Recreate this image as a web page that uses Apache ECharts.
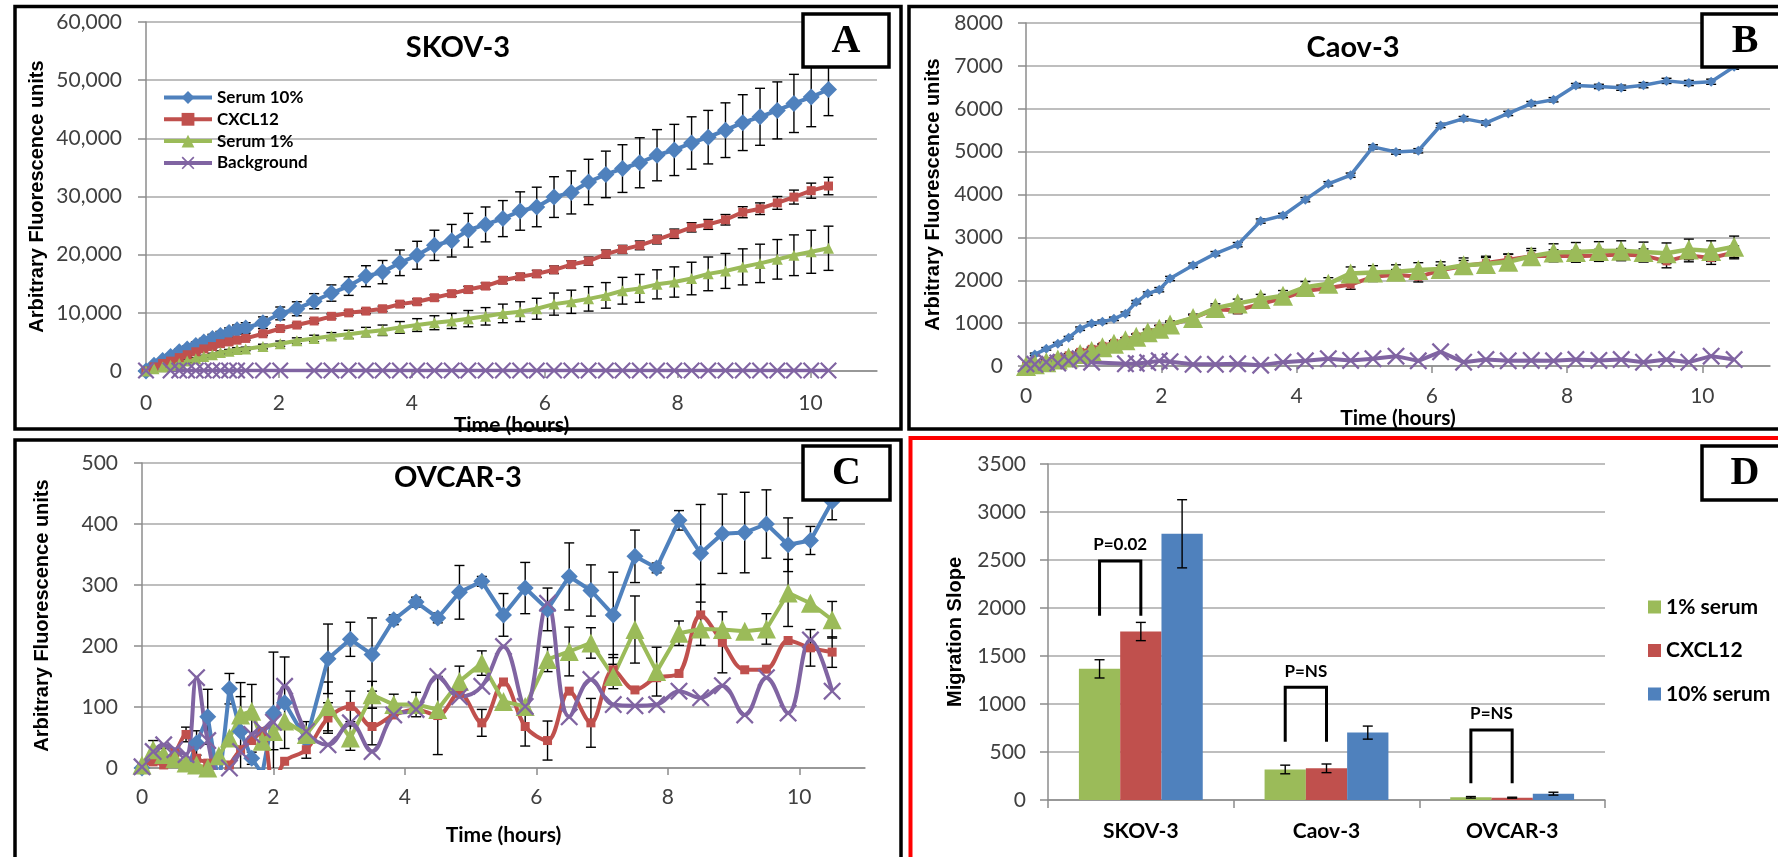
<!DOCTYPE html>
<html><head><meta charset="utf-8">
<script src="https://cdn.jsdelivr.net/npm/echarts@6/dist/echarts.min.js"></script>
<style>html,body{margin:0;padding:0;background:#fff}#c{width:1778px;height:857px}</style>
</head><body><div id="c"></div>
<script>
// ================= DATA =================
// Panel A : SKOV-3
var timesA = [0, 0.12, 0.25, 0.37, 0.5, 0.62, 0.75, 0.87, 1.0, 1.12, 1.25, 1.37, 1.5,
  1.76, 2.02, 2.27, 2.53, 2.79, 3.05, 3.31, 3.56, 3.82, 4.08, 4.34, 4.6,
  4.85, 5.11, 5.37, 5.63, 5.88, 6.14, 6.4, 6.66, 6.92, 7.17, 7.43, 7.69, 7.95, 8.21, 8.46, 8.72, 8.98, 9.24, 9.5, 9.75, 10.01, 10.27];
var aSerum10 = [0, 1000, 1800, 2500, 3300, 3800, 4400, 5000, 5600, 6100, 6600, 7100, 7400,
  8300, 9900, 10700, 12000, 13400, 14600, 16300, 17000, 18600, 19900, 21600, 22400,
  24200, 25200, 26200, 27500, 28200, 29900, 30700, 32500, 33800, 34800, 35800, 37100, 38000, 39200, 40200, 41400, 42700, 43700, 44800, 46000, 47100, 48400];
var aSerum10Err = [0, 200, 300, 400, 500, 500, 600, 600, 700, 700, 800, 800, 900,
  1000, 1100, 1200, 1300, 1400, 1600, 1800, 2000, 2200, 2400, 2600, 2800,
  2900, 3000, 3100, 3300, 3400, 3500, 3700, 3900, 4000, 4100, 4300, 4400, 4400, 4500, 4600, 4700, 4800, 4900, 4900, 5000, 5100, 4500];
var aCxcl12 = [0, 700, 1300, 1700, 2300, 2800, 3300, 3800, 4200, 4700, 5000, 5300, 5600,
  6400, 7300, 7900, 8600, 9400, 10000, 10300, 10700, 11500, 11900, 12600, 13300,
  14000, 14600, 15600, 16200, 16700, 17400, 18300, 18900, 20100, 20900, 21600, 22600, 23600, 24700, 25200, 26000, 27300, 27900, 28900, 29900, 31000, 31800];
var aCxcl12Err = [0, 100, 100, 150, 150, 200, 200, 200, 250, 250, 250, 300, 300,
  300, 350, 350, 400, 400, 400, 450, 450, 450, 500, 500, 500,
  550, 550, 600, 600, 600, 650, 650, 700, 700, 700, 750, 750, 800, 800, 850, 900, 950, 1000, 1100, 1200, 1300, 1500];
var aSerum1 = [0, 400, 700, 1000, 1300, 1700, 2100, 2500, 2800, 3200, 3400, 3700, 3800,
  4200, 4700, 5200, 5600, 6000, 6300, 6700, 7000, 7500, 7900, 8300, 8600,
  9000, 9400, 9900, 10200, 10700, 11500, 11900, 12400, 13000, 13800, 14200, 14900, 15300, 15900, 16700, 17200, 17900, 18500, 19200, 19900, 20500, 21100];
var aSerum1Err = [0, 100, 100, 150, 150, 200, 200, 200, 250, 250, 300, 300, 300,
  400, 450, 500, 550, 600, 700, 800, 900, 1000, 1100, 1200, 1300,
  1400, 1500, 1600, 1700, 1800, 1900, 2000, 2100, 2200, 2300, 2400, 2500, 2600, 2800, 2900, 3000, 3100, 3300, 3400, 3500, 3700, 3800];
var aBackground = [100, null, null, 100, 100, 100, 100, 100, 100, 100, 100, 100, 100,
  100, 100, null, 100, 100, 100, 100, 100, 100, 100, 100, 100,
  100, 100, 100, 100, 100, 100, 100, 100, 100, 100, 100, 100, 100, 100, 100, 100, 100, 100, 100, 100, 100, 100];

// Panel B : Caov-3
var timesB = [0, 0.13, 0.3, 0.47, 0.63, 0.8, 0.97, 1.13, 1.3, 1.47, 1.63, 1.8, 1.97, 2.13,
  2.47, 2.8, 3.13, 3.47, 3.8, 4.13, 4.47, 4.8, 5.13, 5.47, 5.8, 6.13, 6.47, 6.8, 7.13, 7.47, 7.8, 8.13, 8.47, 8.8, 9.13, 9.47, 9.8, 10.13, 10.47];
var bSerum10 = [0, 270, 400, 520, 660, 870, 990, 1030, 1100, 1220, 1490, 1690, 1780, 2040,
  2350, 2620, 2830, 3380, 3510, 3880, 4250, 4450, 5110, 4990, 5020, 5610, 5770, 5670, 5890, 6120, 6210, 6540, 6520, 6490, 6550, 6650, 6600, 6630, 6980];
var bSerum10Err = [0, 30, 30, 30, 30, 40, 40, 40, 40, 40, 40, 40, 50, 50,
  50, 50, 50, 50, 50, 50, 50, 50, 50, 50, 50, 50, 50, 50, 50, 50, 50, 50, 50, 60, 60, 60, 60, 60, 60];
var bCxcl12 = [0, 50, 120, 180, 250, 330, 400, 470, 540, 610, 690, 780, 880, 960,
  1120, 1320, 1300, 1450, 1580, 1750, 1820, 1900, 2080, 2130, 2080, 2230, 2330, 2400, 2480, 2560, 2570, 2560, 2580, 2600, 2580, 2440, 2580, 2520, 2650];
var bCxcl12Err = [0, 30, 30, 30, 40, 40, 40, 50, 50, 50, 50, 60, 60, 60,
  70, 80, 80, 80, 90, 100, 100, 110, 110, 120, 120, 120, 130, 130, 130, 130, 140, 140, 140, 140, 150, 150, 150, 150, 150];
var bSerum1 = [0, 40, 90, 150, 200, 280, 350, 440, 520, 600, 680, 790, 870, 970,
  1120, 1350, 1460, 1560, 1640, 1840, 1920, 2160, 2180, 2200, 2240, 2260, 2350, 2380, 2430, 2560, 2650, 2660, 2680, 2690, 2660, 2630, 2720, 2680, 2780];
var bSerum1Err = [0, 30, 30, 40, 40, 50, 50, 60, 60, 60, 70, 70, 80, 80,
  90, 100, 100, 110, 120, 130, 140, 150, 160, 160, 170, 170, 170, 180, 180, 180, 200, 220, 220, 230, 230, 240, 240, 240, 250];
var bBackground = [50, 40, 90, 70, 120, 170, 90, null, null, 50, 60, 80, 120, 100,
  40, 40, 50, 20, 90, 120, 170, 130, 170, 230, 120, 330, 90, 150, 120, 130, 120, 150, 130, 150, 90, 150, 90, 230, 150];

// Panel C : OVCAR-3
var timesC = [0, 0.17, 0.33, 0.5, 0.67, 0.83, 1.0, 1.17, 1.33, 1.5, 1.67, 1.83, 2.0, 2.17,
  2.5, 2.83, 3.17, 3.5, 3.83, 4.17, 4.5, 4.83, 5.17, 5.5, 5.83, 6.17, 6.5, 6.83, 7.17, 7.5, 7.83, 8.17, 8.5, 8.83, 9.17, 9.5, 9.83, 10.17, 10.5];
var cSerum10 = [0, -20, -30, -25, -10, 41, 84, -30, 130, 60, 16, -10, 90, 107,
  46, 179, 211, 186, 243, 272, 246, 288, 306, 251, 295, 260, 314, 291, 251, 347, 328, 406, 352, 384, 386, 400, 366, 373, 437];
var cSerum10Err = [0, 0, 0, 0, 0, 20, 45, 0, 25, 80, 10, 0, 100, 75,
  30, 57, 28, 60, 8, 8, 8, 44, 8, 35, 42, 35, 55, 42, 70, 43, 8, 16, 80, 65, 66, 56, 44, 23, 30];
var cCxcl12 = [2, 10, 5, 25, 55, 16, 8, -20, 5, 30, 45, 60, -30, 11,
  30, 82, 101, 68, 87, 96, 86, 123, 74, 141, 68, 45, 126, 74, 161, 128, 148, 155, 251, 206, 161, 162, 209, 197, 190];
var cCxcl12Err = [0, 0, 0, 0, 12, 0, 0, 0, 0, 0, 0, 0, 0, 0,
  0, 25, 25, 30, 0, 0, 64, 0, 22, 0, 32, 32, 0, 40, 25, 0, 0, 0, 50, 50, 0, 0, 0, 30, 25];
var cSerum1 = [5, 30, 22, 15, 8, 5, 0, 20, 49, 87, 93, 44, 60, 77,
  55, 101, 49, 120, 104, 104, 96, 142, 172, 109, 101, 178, 191, 205, 150, 227, 158, 221, 228, 227, 224, 228, 287, 270, 243];
var cSerum1Err = [0, 15, 10, 10, 0, 0, 0, 0, 0, 30, 44, 0, 30, 0,
  0, 40, 20, 22, 17, 20, 0, 25, 20, 0, 0, 20, 40, 25, 20, 55, 40, 20, 0, 0, 0, 25, 55, 0, 30];
var cBackground = [2, 27, 38, 30, 22, 148, 45, -10, 0, 27, 55, 63, 75, 134,
  60, 38, 74, 27, 87, 96, 150, 117, 134, 199, 101, 270, 84, 145, 104, 102, 104, 126, 115, 135, 87, 148, 90, 210, 126];

// Panel D : migration slopes
var categoriesD = ['SKOV-3', 'Caov-3', 'OVCAR-3'];
var dSerum1 = [1366, 318, 28];
var dSerum1Err = [95, 45, 8];
var dCxcl12 = [1755, 330, 24];
var dCxcl12Err = [95, 45, 5];
var dSerum10 = [2773, 702, 66];
var dSerum10Err = [355, 68, 15];
var dPLabels = ['P=0.02', 'P=NS', 'P=NS'];
var dBracketTop = [2490, 1175, 730];
var dBracketBottom = [1920, 608, 174];

// tick labels
var timeTicks = [0, 2, 4, 6, 8, 10];

// ================= CHART =================
var BLUE = '#4F81BD', RED = '#C0504D', GREEN = '#9BBB59', PURPLE = '#8064A2';
var FONT = 'Lato';
var AXIS = '#8c8c8c', GRID = '#a8a8a8', LABEL = '#404040';
var XSYM = 'path://M0,0.9 L0.9,0 L5,4.1 L9.1,0 L10,0.9 L5.9,5 L10,9.1 L9.1,10 L5,5.9 L0.9,10 L0,9.1 L4.1,5 Z';

function pairs(t, v) { var o = []; for (var i = 0; i < t.length; i++) o.push([t[i], v[i]]); return o; }
function errData(t, v, e) {
  var o = [];
  for (var i = 0; i < t.length; i++) if (v[i] != null && e[i] > 0) o.push([t[i], v[i] - e[i], v[i] + e[i]]);
  return o;
}
function errSeries(gi, data, cap) {
  return {
    type: 'custom', coordinateSystem: 'cartesian2d', xAxisIndex: gi, yAxisIndex: gi,
    data: data, z: 1, silent: true, clip: true, encode: { x: 0, y: [1, 2] },
    renderItem: function (params, api) {
      var x = api.value(0);
      var p1 = api.coord([x, api.value(1)]), p2 = api.coord([x, api.value(2)]);
      var st = { stroke: '#000', lineWidth: 1.4 };
      return { type: 'group', children: [
        { type: 'line', shape: { x1: p1[0], y1: p1[1], x2: p2[0], y2: p2[1] }, style: st },
        { type: 'line', shape: { x1: p1[0] - cap / 2, y1: p1[1], x2: p1[0] + cap / 2, y2: p1[1] }, style: st },
        { type: 'line', shape: { x1: p2[0] - cap / 2, y1: p2[1], x2: p2[0] + cap / 2, y2: p2[1] }, style: st }
      ] };
    }
  };
}
function lineSeries(name, gi, t, v, color, symbol, size, width, extra) {
  var s = {
    type: 'line', name: name, xAxisIndex: gi, yAxisIndex: gi, data: pairs(t, v),
    symbol: symbol, symbolSize: size, showAllSymbol: true, connectNulls: true, clip: true,
    lineStyle: { color: color, width: width }, itemStyle: { color: color, borderWidth: 0 },
    emphasis: { disabled: true }, z: 2
  };
  if (extra) for (var k in extra) s[k] = extra[k];
  return s;
}
function timeAxis(gi, labelMargin, nameGap) {
  return {
    type: 'value', gridIndex: gi, min: 0, max: 11, interval: 2,
    axisLine: { show: true, onZero: false, lineStyle: { color: AXIS, width: 1.5 } },
    axisTick: { show: true, length: 7, customValues: timeTicks, lineStyle: { color: AXIS, width: 1.5 } },
    axisLabel: { customValues: timeTicks, fontFamily: FONT, fontSize: 21, color: LABEL, margin: labelMargin,
      formatter: function (v) { return v > 10 ? '' : String(v); } },
    splitLine: { show: false },
    name: 'Time (hours)', nameLocation: 'middle', nameGap: nameGap,
    nameTextStyle: { fontFamily: FONT, fontWeight: 'bold', fontSize: 21, color: '#000', verticalAlign: 'middle', align: 'center' }
  };
}
function valAxis(gi, max, interval, labelMargin, name, nameGap, fmt) {
  return {
    type: 'value', gridIndex: gi, min: 0, max: max, interval: interval,
    axisLine: { show: true, lineStyle: { color: AXIS, width: 1.5 } },
    axisTick: { show: true, length: 8, lineStyle: { color: AXIS, width: 1.5 } },
    axisLabel: { fontFamily: FONT, fontSize: 21, color: LABEL, margin: labelMargin, formatter: fmt },
    splitLine: { show: true, lineStyle: { color: GRID, width: 1.5 } },
    name: name, nameLocation: 'middle', nameGap: nameGap, nameRotate: 90,
    nameTextStyle: { fontFamily: 'Liberation Sans', fontWeight: 'bold', fontSize: 20, color: '#000', verticalAlign: 'middle', align: 'center' }
  };
}
var comma = function (v) { return Number(v).toLocaleString('en-US'); };
var plain = function (v) { return String(v); };

var series = [];
// A
series.push(lineSeries('Serum 10%', 0, timesA, aSerum10, BLUE, 'diamond', 17, 4));
series.push(lineSeries('CXCL12', 0, timesA, aCxcl12, RED, 'rect', 9, 4));
series.push(lineSeries('Serum 1%', 0, timesA, aSerum1, GREEN, 'triangle', 11, 4));
series.push(lineSeries('Background', 0, timesA, aBackground, PURPLE, XSYM, 17, 3.5));
series.push(errSeries(0, errData(timesA, aSerum10, aSerum10Err), 10));
series.push(errSeries(0, errData(timesA, aCxcl12, aCxcl12Err), 10));
series.push(errSeries(0, errData(timesA, aSerum1, aSerum1Err), 10));
// B
series.push(lineSeries('Serum 10%', 1, timesB, bSerum10, BLUE, 'diamond', 10, 3.5));
series.push(lineSeries('CXCL12', 1, timesB, bCxcl12, RED, 'rect', 8, 4));
series.push(lineSeries('Serum 1%', 1, timesB, bSerum1, GREEN, 'triangle', 20, 4.5));
series.push(lineSeries('Background', 1, timesB, bBackground, PURPLE, XSYM, 18, 4));
series.push(errSeries(1, errData(timesB, bSerum10, bSerum10Err), 10));
series.push(errSeries(1, errData(timesB, bCxcl12, bCxcl12Err), 10));
series.push(errSeries(1, errData(timesB, bSerum1, bSerum1Err), 10));
// C
series.push(lineSeries('Serum 10%', 2, timesC, cSerum10, BLUE, 'diamond', 17, 4));
series.push(lineSeries('CXCL12', 2, timesC, cCxcl12, RED, 'rect', 9, 4, { smooth: 0.35 }));
series.push(lineSeries('Serum 1%', 2, timesC, cSerum1, GREEN, 'triangle', 19, 4));
series.push(lineSeries('Background', 2, timesC, cBackground, PURPLE, XSYM, 18, 4, { smooth: 0.4 }));
series.push(errSeries(2, errData(timesC, cSerum10, cSerum10Err), 10));
series.push(errSeries(2, errData(timesC, cCxcl12, cCxcl12Err), 10));
series.push(errSeries(2, errData(timesC, cSerum1, cSerum1Err), 10));

// D bars
function barSeries(name, vals, color) {
  return { type: 'bar', name: name, xAxisIndex: 3, yAxisIndex: 3, data: vals, barGap: '0%', barCategoryGap: '33.3%',
    itemStyle: { color: color }, emphasis: { disabled: true }, z: 2 };
}
series.push(barSeries('1% serum', dSerum1, GREEN));
series.push(barSeries('CXCL12', dCxcl12, RED));
series.push(barSeries('10% serum', dSerum10, BLUE));
var dErr = [];
[dSerum1, dCxcl12, dSerum10].forEach(function (vals, k) {
  var errs = [dSerum1Err, dCxcl12Err, dSerum10Err][k];
  for (var i = 0; i < vals.length; i++) dErr.push([i, vals[i] - errs[i], vals[i] + errs[i], k]);
});
series.push({
  type: 'custom', coordinateSystem: 'cartesian2d', xAxisIndex: 3, yAxisIndex: 3, data: dErr, z: 3, silent: true,
  encode: { x: 0, y: [1, 2] },
  renderItem: function (params, api) {
    var band = api.size([1, 0])[0];
    var bw = band * (1 - 0.333) / 3;
    var off = (api.value(3) - 1) * bw;
    var p1 = api.coord([api.value(0), api.value(1)]), p2 = api.coord([api.value(0), api.value(2)]);
    var x = p1[0] + off, cap = 10;
    var st = { stroke: '#000', lineWidth: 1.4 };
    return { type: 'group', children: [
      { type: 'line', shape: { x1: x, y1: p1[1], x2: x, y2: p2[1] }, style: st },
      { type: 'line', shape: { x1: x - cap / 2, y1: p1[1], x2: x + cap / 2, y2: p1[1] }, style: st },
      { type: 'line', shape: { x1: x - cap / 2, y1: p2[1], x2: x + cap / 2, y2: p2[1] }, style: st }
    ] };
  }
});
var dBr = [];
for (var i = 0; i < categoriesD.length; i++) dBr.push([i, dBracketTop[i], dBracketBottom[i]]);
series.push({
  type: 'custom', coordinateSystem: 'cartesian2d', xAxisIndex: 3, yAxisIndex: 3, data: dBr, z: 4, silent: true,
  encode: { x: 0, y: [1, 2] },
  renderItem: function (params, api) {
    var band = api.size([1, 0])[0];
    var bw = band * (1 - 0.333) / 3;
    var top = api.coord([api.value(0), api.value(1)]), bot = api.coord([api.value(0), api.value(2)]);
    var xl = top[0] - bw, xr = top[0];
    return { type: 'group', children: [
      { type: 'polyline', shape: { points: [[xl, bot[1]], [xl, top[1]], [xr, top[1]], [xr, bot[1]]] },
        style: { stroke: '#000', lineWidth: 3, fill: null } },
      { type: 'text', x: (xl + xr) / 2, y: top[1] - 16,
        style: { text: dPLabels[params.dataIndex], fill: '#000', font: 'bold 17px Lato',
          align: 'center', verticalAlign: 'middle', textAlign: 'center', textVerticalAlign: 'middle' } }
    ] };
  }
});

function boxLetter(x, y, w, h, letter) {
  return [
    { type: 'rect', shape: { x: x, y: y, width: w, height: h }, style: { fill: '#fff', stroke: '#000', lineWidth: 3.5 }, z: 100 },
    { type: 'text', x: x + w / 2, y: y + h / 2 + 1, z: 101,
      style: { text: letter, fill: '#000', font: 'bold 40px "Liberation Serif"', align: 'center', verticalAlign: 'middle', textAlign: 'center', textVerticalAlign: 'middle' } }
  ];
}
function title(x, y, txt) {
  return { type: 'text', x: x, y: y, z: 50,
    style: { text: txt, fill: '#000', font: 'bold 29px Lato', align: 'center', verticalAlign: 'middle', textAlign: 'center', textVerticalAlign: 'middle' } };
}
var graphics = [
  { type: 'rect', shape: { x: 15, y: 6.5, width: 886, height: 422.5 }, style: { fill: null, stroke: '#000', lineWidth: 3.5 }, z: 90 },
  { type: 'rect', shape: { x: 909, y: 6.5, width: 880, height: 422.5 }, style: { fill: null, stroke: '#000', lineWidth: 3.5 }, z: 90 },
  { type: 'rect', shape: { x: 15, y: 440, width: 886, height: 430 }, style: { fill: null, stroke: '#000', lineWidth: 3.5 }, z: 90 },
  { type: 'rect', shape: { x: 910.5, y: 438, width: 880, height: 430 }, style: { fill: null, stroke: '#ff0000', lineWidth: 4 }, z: 91 },
  title(458, 48, 'SKOV-3'), title(1353, 48, 'Caov-3'), title(458, 478, 'OVCAR-3')
].concat(boxLetter(803, 14, 86, 53, 'A'), boxLetter(1702, 14, 86, 53, 'B'),
  boxLetter(803, 446, 87, 54, 'C'), boxLetter(1702, 446, 86, 54, 'D'));

var option = {
  animation: false,
  backgroundColor: '#fff',
  grid: [
    { left: 146, top: 22, width: 731, height: 349 },
    { left: 1026, top: 23, width: 744, height: 343 },
    { left: 142, top: 463, width: 723, height: 305 },
    { left: 1048, top: 464, width: 557, height: 336 }
  ],
  xAxis: [
    timeAxis(0, 22, 42),
    timeAxis(1, 20, 47),
    timeAxis(2, 19, 67),
    { type: 'category', gridIndex: 3, data: categoriesD,
      axisLine: { show: true, lineStyle: { color: AXIS, width: 1.5 } },
      axisTick: { show: true, length: 8, alignWithLabel: false, lineStyle: { color: AXIS, width: 1.5 } },
      axisLabel: { fontFamily: FONT, fontWeight: 'bold', fontSize: 21, color: '#000', margin: 21 },
      splitLine: { show: false } }
  ],
  yAxis: [
    valAxis(0, 60000, 10000, 24, 'Arbitrary Fluorescence units', 109, comma),
    valAxis(1, 8000, 1000, 23, 'Arbitrary Fluorescence units', 93, plain),
    valAxis(2, 500, 100, 24, 'Arbitrary Fluorescence units', 100, plain),
    valAxis(3, 3500, 500, 22, 'Migration Slope', 93, plain)
  ],
  legend: [
    { data: ['Serum 10%', 'CXCL12', 'Serum 1%', 'Background'], orient: 'vertical', left: 157, top: 84,
      itemWidth: 48, itemHeight: 16, itemGap: 4.8, selectedMode: false,
      lineStyle: { width: 4 },
      textStyle: { fontFamily: FONT, fontWeight: 'bold', fontSize: 17, lineHeight: 16, color: '#000' } },
    { data: ['1% serum', 'CXCL12', '10% serum'], orient: 'vertical', left: 1643, top: 591, icon: 'rect',
      itemWidth: 13, itemHeight: 13, itemGap: 21.5, selectedMode: false,
      textStyle: { fontFamily: FONT, fontWeight: 'bold', fontSize: 21, lineHeight: 22, color: '#000' } }
  ],
  series: series,
  graphic: graphics
};
var chart = echarts.init(document.getElementById('c'));
chart.setOption(option);
</script>
</body></html>
